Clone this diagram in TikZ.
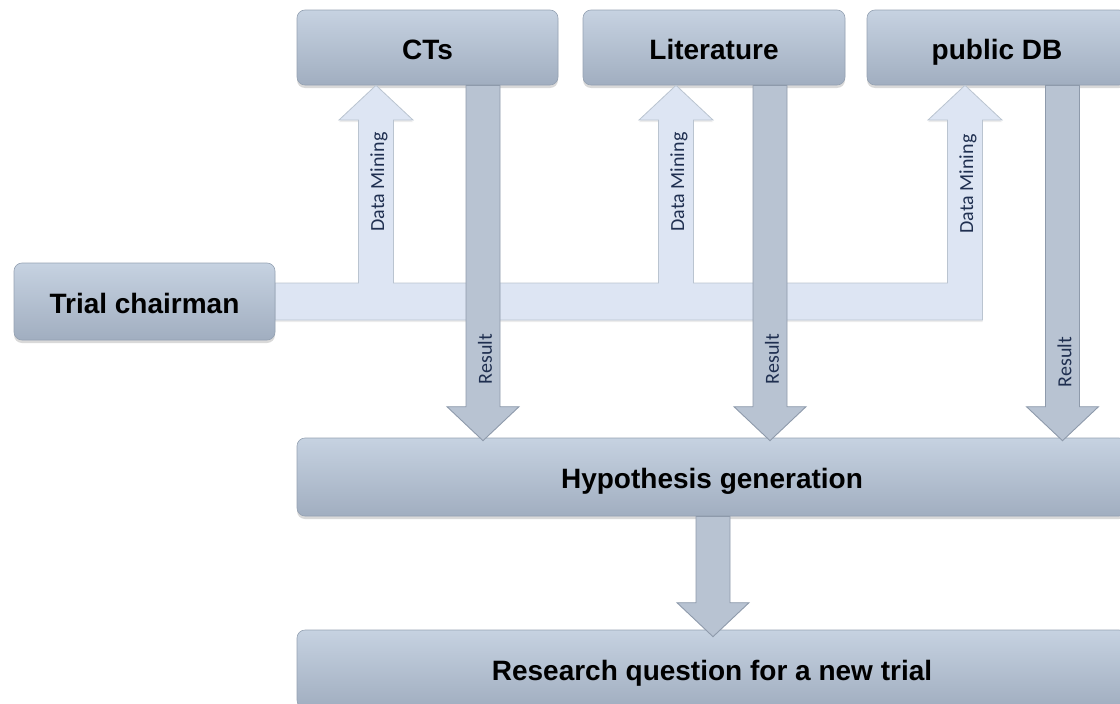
\documentclass[tikz,border=0pt]{standalone}
\usepackage{fontspec}
\setmainfont{Liberation Sans}
\newfontfamily\lblfont{Carlito}
\usetikzlibrary{shadows,calc}

\definecolor{boxtop}{HTML}{C6D2E1}
\definecolor{boxbot}{HTML}{A1AEC0}
\definecolor{boxedge}{HTML}{95A2B3}
\definecolor{upfill}{HTML}{DDE5F3}
\definecolor{upedge}{HTML}{BAC4D0}
\definecolor{downfill}{HTML}{B8C3D2}
\definecolor{downedge}{HTML}{8E9AAB}
\definecolor{lbltext}{HTML}{1F2F50}

\tikzset{
  stage/.style={rounded corners=8pt, draw=boxedge, line width=0.6pt,
    top color=boxtop, bottom color=boxbot,
    drop shadow={shadow xshift=0pt, shadow yshift=-3pt, opacity=0.3},
    font=\fontsize{28}{32}\selectfont\bfseries, text=black, inner sep=0pt,
    text height=23pt, text depth=0pt},
  databand/.style={fill=upfill, draw=upedge, line width=0.8pt, line join=miter,
    drop shadow={shadow xshift=0pt, shadow yshift=-2pt, opacity=0.15}},
  resultbar/.style={fill=downfill, draw=downedge, line width=0.9pt, line join=miter},
  arrowlabel/.style={font=\lblfont\fontsize{20}{22}\selectfont, text=lbltext, rotate=90, inner sep=0pt}
}

% block arrow pointing down: #1 x centre, #2 source node, #3 target node, #4 tip overshoot
\newcommand\blockdown[4]{%
  \path let \p1=(#2.south), \p2=(#3.north) in
    [resultbar]
    (#1pt-17pt, \y1) -- (#1pt-17pt, \y2-#4pt+34pt) -- (#1pt-36pt, \y2-#4pt+34pt)
    -- (#1pt, \y2-#4pt) -- (#1pt+36pt, \y2-#4pt+34pt) -- (#1pt+17pt, \y2-#4pt+34pt)
    -- (#1pt+17pt, \y1) -- cycle;
}

\begin{document}
\begin{tikzpicture}[x=1pt, y=-1pt]
  \useasboundingbox (0,0) rectangle (1120,704);
  \clip (0,0) rectangle (1120,704);

  % sources
  \node[stage, minimum width=261pt, minimum height=75pt] (ct)  at (427.5,47.5) {CTs};
  \node[stage, minimum width=262pt, minimum height=75pt] (lit) at (714,47.5) {Literature};
  \node[stage, minimum width=260pt, minimum height=75pt] (pdb) at (997,47.5) {public DB};

  % data mining band with three upward heads
  \coordinate (dm1) at (376,0);
  \coordinate (dm2) at (676,0);
  \coordinate (dm3) at (965,0);
  \path[databand]
    (275,320) -- (275,283)
    -- (358.5,283) -- (358.5,120) -- (339,120) -- (dm1 |- ct.south) -- (413,120) -- (393.5,120) -- (393.5,283)
    -- (658.5,283) -- (658.5,120) -- (639,120) -- (dm2 |- lit.south) -- (713,120) -- (693.5,120) -- (693.5,283)
    -- (947.5,283) -- (947.5,120) -- (928,120) -- (dm3 |- pdb.south) -- (1002,120) -- (982.5,120)
    -- (982.5,320) -- cycle;
  \node[arrowlabel] (dml1) at (379,182) {Data Mining};
  \node[arrowlabel] (dml2) at (679,182) {Data Mining};
  \node[arrowlabel] (dml3) at (968,184) {Data Mining};

  % chairman
  \node[stage, minimum width=261pt, minimum height=77pt] (chair) at (144.5,301.5) {Trial chairman};

  % downstream stages
  \node[stage, minimum width=830pt, minimum height=78pt] (hyp) at (712,477) {Hypothesis generation};
  \node[stage, minimum width=830pt, minimum height=78pt] (rq)  at (712,669) {Research question for a new trial};

  % results flowing down
  \blockdown{483}{ct}{hyp}{3}
  \blockdown{770}{lit}{hyp}{3}
  \blockdown{1062.5}{pdb}{hyp}{3}
  \node[arrowlabel] (rl1) at (485,359) {Result};
  \node[arrowlabel] (rl2) at (772,359) {Result};
  \node[arrowlabel] (rl3) at (1064.5,362) {Result};

  \blockdown{713}{hyp}{rq}{7}
\end{tikzpicture}
\end{document}
